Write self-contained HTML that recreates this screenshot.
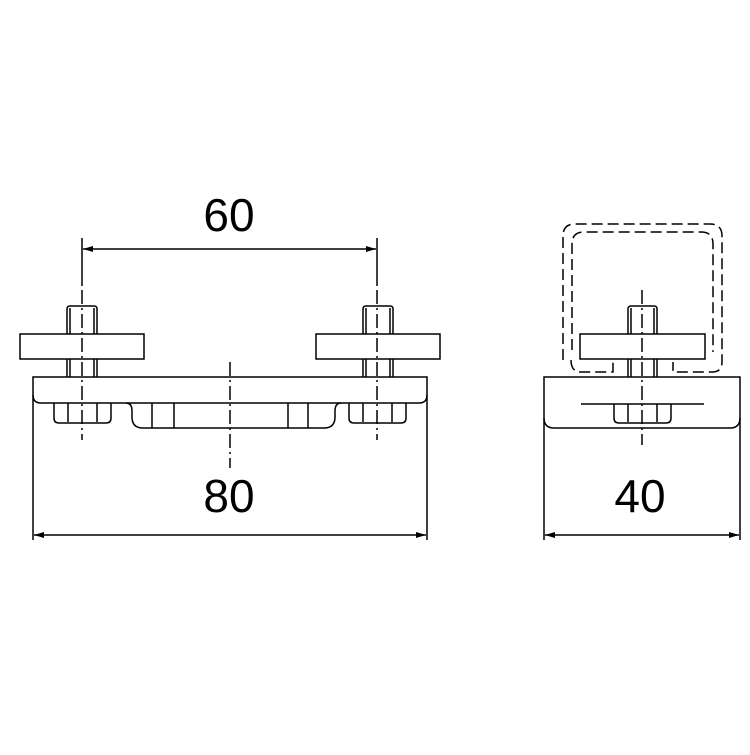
<!DOCTYPE html>
<html><head><style>body{margin:0;background:#fff}</style></head><body>
<svg width="750" height="750" viewBox="0 0 750 750" xmlns="http://www.w3.org/2000/svg">
<defs>
<marker id="a" viewBox="0 0 10 6" refX="10" refY="3" markerWidth="14" markerHeight="6" markerUnits="userSpaceOnUse" orient="auto-start-reverse"><path d="M0,0L10,3L0,6z" fill="#000"/></marker>
</defs>
<g fill="none" stroke="#000" stroke-width="1.5">
<line x1="82" y1="238" x2="82" y2="286"/><line x1="377" y1="238" x2="377" y2="286"/>
<line x1="83" y1="249" x2="376" y2="249" marker-start="url(#a)" marker-end="url(#a)"/>
<path d="M67,359V309q0,-3 3,-3h24q3,0 3,3V359"/><line x1="70" y1="308" x2="70" y2="377"/><line x1="94" y1="308" x2="94" y2="377"/>
<path d="M363,359V309q0,-3 3,-3h24q3,0 3,3V359"/><line x1="366" y1="308" x2="366" y2="377"/><line x1="390" y1="308" x2="390" y2="377"/>
<line x1="67" y1="359" x2="67" y2="377"/><line x1="97" y1="359" x2="97" y2="377"/>
<line x1="363" y1="359" x2="363" y2="377"/><line x1="393" y1="359" x2="393" y2="377"/>
<rect x="20" y="334" width="124" height="25" fill="#fff"/>
<rect x="316" y="334" width="124" height="25" fill="#fff"/>
<path d="M33,540V377H427V540"/>
<path d="M33,395q0,8 8,8H419q8,0 8,-8"/>
<path d="M54,403V418q0,5 5,5H106q5,0 5,-5V403 M68,403V422 M97,403V422"/>
<path d="M349,403V418q0,5 5,5H401q5,0 5,-5V403 M363,403V422 M392,403V422"/>
<path d="M126,403q6,0 6,8v6q0,11 11,11H324q11,0 11,-11v-6q0,-8 6,-8"/>
<path d="M152,403V428 M174,403V428 M288,403V428 M308,403V428"/>
<line x1="34" y1="535" x2="426" y2="535" marker-start="url(#a)" marker-end="url(#a)"/>
<g stroke-dasharray="11,5">
<path d="M563,360V236q0,-12 12,-12H710q12,0 12,12V362q0,10 -10,10H673V362"/>
<path d="M572,350V244q0,-12 12,-12H701q12,0 12,12V352 M571,360q0,12 10,12H613V362"/>
</g>
<path d="M628,359V309q0,-3 3,-3h23q3,0 3,3V359 M631,308V377 M654,308V377 M628,359V377 M657,359V377"/>
<rect x="580" y="334" width="125" height="25" fill="#fff"/>
<path d="M544,540V377H740V540"/>
<path d="M544,418q0,10 10,10H730q10,0 10,-10"/>
<line x1="581" y1="404" x2="704" y2="404"/>
<path d="M614,404V418q0,5 5,5H666q5,0 5,-5V404 M628,404V422 M657,404V422"/>
<line x1="545" y1="535" x2="739" y2="535" marker-start="url(#a)" marker-end="url(#a)"/>
</g>
<g stroke="#000" stroke-width="1.5" stroke-dasharray="14,4,2,4" fill="none">
<line x1="82" y1="290" x2="82" y2="440"/>
<line x1="377" y1="290" x2="377" y2="440"/>
<line x1="230" y1="362" x2="230" y2="468"/>
<line x1="642" y1="290" x2="642" y2="445"/>
</g>
<g font-family="Liberation Sans, sans-serif" font-size="46" text-anchor="middle" fill="#000">
<text x="229" y="231">60</text>
<text x="229" y="512">80</text>
<text x="640" y="512">40</text>
</g>
</svg>
</body></html>
